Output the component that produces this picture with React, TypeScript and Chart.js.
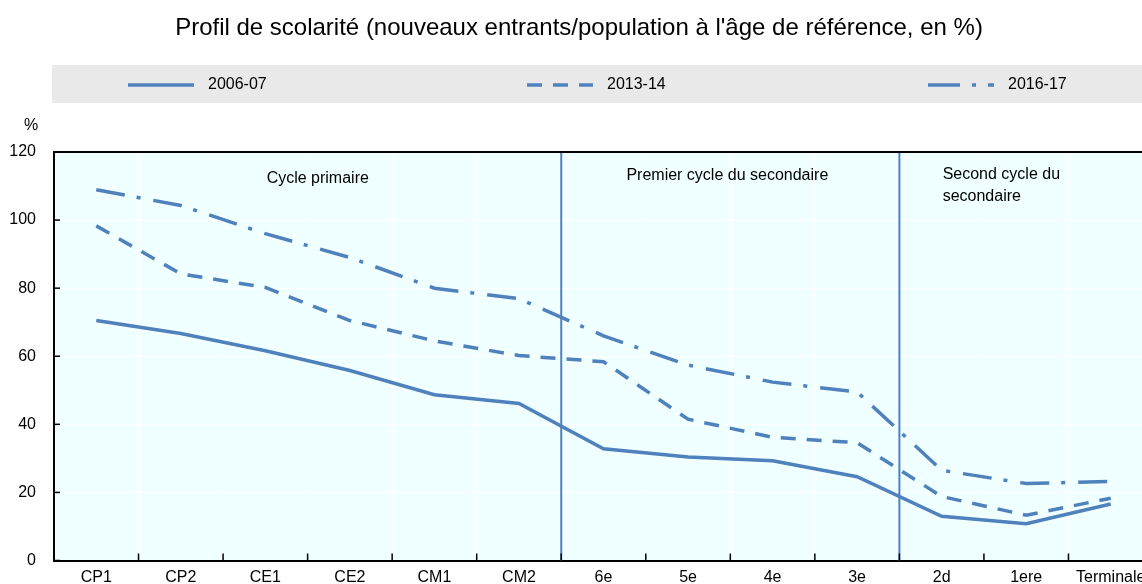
import React, { useEffect, useRef } from "react";
import { Chart, registerables } from "chart.js";

Chart.register(...registerables);

const titleText = "Profil de scolarité (nouveaux entrants/population à l'âge de référence, en %)";
const categories = ["CP1", "CP2", "CE1", "CE2", "CM1", "CM2", "6e", "5e", "4e", "3e", "2d", "1ere", "Terminale"];
const series2006 = [70.5, 66.7, 61.6, 55.8, 48.7, 46.1, 32.8, 30.4, 29.3, 24.6, 13.0, 10.8, 16.6];
const series2013 = [98.3, 84.2, 80.2, 70.5, 64.5, 60.2, 58.4, 41.5, 36.2, 34.6, 18.8, 13.3, 18.3];
const series2016 = [108.9, 104.3, 96.0, 89.0, 80.0, 76.9, 66.0, 57.4, 52.4, 49.5, 26.5, 22.6, 23.2];
const seriesLabels = ["2006-07", "2013-14", "2016-17"];
const yTicks = [0, 20, 40, 60, 80, 100, 120];
const yUnit = "%";
const sectionLabels = [["Cycle primaire"], ["Premier cycle du secondaire"], ["Second cycle du", "secondaire"]];
const sectionBreaks = [5.5, 9.5];

const FONT = "'Liberation Sans', Arial, sans-serif";
const BLUE = "#4f81bd";
const DASHES: number[][] = [[], [15, 11], [29, 12, 4, 13]];

export default function App() {
  const ref = useRef<HTMLCanvasElement>(null);

  useEffect(() => {
    const canvas = ref.current!;
    const decor = {
      id: "decor",
      beforeDraw(chart: any) {
        const { ctx, chartArea: a } = chart;
        ctx.save();
        ctx.fillStyle = "#f0ffff";
        ctx.fillRect(a.left, a.top, a.right - a.left, a.bottom - a.top);
        // title
        ctx.fillStyle = "#000";
        ctx.font = `24px ${FONT}`;
        ctx.textAlign = "center";
        ctx.textBaseline = "middle";
        ctx.fillText(titleText, 579, 28);
        // legend band
        ctx.fillStyle = "#e9e9e9";
        ctx.fillRect(52, 65, chart.width - 52, 38);
        const lx = [128, 527, 928];
        seriesLabels.forEach((lab, i) => {
          ctx.strokeStyle = BLUE;
          ctx.lineWidth = 3.5;
          ctx.setLineDash(i === 2 ? [32, 12, 4, 12] : DASHES[i]);
          ctx.beginPath();
          ctx.moveTo(lx[i], 85);
          ctx.lineTo(lx[i] + 66, 85);
          ctx.stroke();
          ctx.setLineDash([]);
          ctx.fillStyle = "#000";
          ctx.font = `16px ${FONT}`;
          ctx.textAlign = "left";
          ctx.textBaseline = "middle";
          ctx.fillText(lab, lx[i] + 80, 85);
        });
        // unit
        ctx.font = `16px ${FONT}`;
        ctx.textAlign = "center";
        ctx.fillText(yUnit, 31, 126);
        ctx.restore();
      },
      beforeDatasetsDraw(chart: any) {
        const { ctx, chartArea: a, scales } = chart;
        const x = scales.x;
        const y = scales.y;
        const half = (x.getPixelForValue(1) - x.getPixelForValue(0)) / 2;
        ctx.save();
        // separators
        ctx.strokeStyle = BLUE;
        ctx.lineWidth = 2;
        sectionBreaks.forEach((b) => {
          const px = x.getPixelForValue(Math.floor(b)) + half;
          ctx.beginPath();
          ctx.moveTo(px, a.top);
          ctx.lineTo(px, a.bottom);
          ctx.stroke();
        });
        // section labels
        ctx.fillStyle = "#000";
        ctx.font = `16px ${FONT}`;
        ctx.textBaseline = "middle";
        ctx.textAlign = "center";
        ctx.fillText(sectionLabels[0][0], x.getPixelForValue(2) + half * 1.24, 179);
        ctx.fillText(sectionLabels[1][0], x.getPixelForValue(7) + half * 0.93, 176);
        ctx.textAlign = "left";
        sectionLabels[2].forEach((t, i) => ctx.fillText(t, x.getPixelForValue(10) + 1, 175 + i * 21.5));
        // top border
        ctx.strokeStyle = "#000";
        ctx.lineWidth = 2;
        ctx.beginPath();
        ctx.moveTo(a.left - 1, a.top);
        ctx.lineTo(a.right, a.top);
        ctx.stroke();
        // inner ticks
        ctx.lineWidth = 1.5;
        for (let i = 1; i < categories.length; i++) {
          const px = x.getPixelForValue(i) - half;
          ctx.beginPath();
          ctx.moveTo(px, a.bottom);
          ctx.lineTo(px, a.bottom - 7);
          ctx.stroke();
        }
        yTicks.forEach((v) => {
          const py = y.getPixelForValue(v);
          ctx.beginPath();
          ctx.moveTo(a.left, py);
          ctx.lineTo(a.left + 6, py);
          ctx.stroke();
        });
        ctx.restore();
      },
    };

    const chart = new Chart(canvas, {
      type: "line",
      data: {
        labels: categories,
        datasets: [series2006, series2013, series2016].map((d, i) => ({
          label: seriesLabels[i],
          data: d,
          borderColor: BLUE,
          backgroundColor: BLUE,
          borderWidth: 3.5,
          borderDash: DASHES[i],
          pointRadius: 0,
          tension: 0,
          fill: false,
        })),
      },
      options: {
        responsive: false,
        maintainAspectRatio: false,
        animation: false,
        events: [],
        layout: { padding: { top: 152, left: 0, right: 0, bottom: 0 } },
        plugins: { legend: { display: false }, title: { display: false }, tooltip: { enabled: false } },
        scales: {
          x: {
            offset: true,
            grid: { color: "#ffffff", lineWidth: 1, drawTicks: false, offset: true },
            border: { color: "#000", width: 2 },
            ticks: { color: "#000", font: { family: FONT, size: 16 }, padding: 7, maxRotation: 0, autoSkip: false },
            afterFit: (s: any) => {
              s.height = 23.5;
            },
          },
          y: {
            min: 0,
            max: 120,
            afterBuildTicks: (s: any) => {
              s.ticks = yTicks.map((v) => ({ value: v }));
            },
            grid: { color: "#ffffff", lineWidth: 1, drawTicks: true, tickLength: 18, tickColor: "rgba(0,0,0,0)" },
            border: { color: "#000", width: 2 },
            ticks: { color: "#000", font: { family: FONT, size: 16 }, padding: 0 },
            afterFit: (s: any) => {
              s.width = 54;
            },
          },
        },
      },
      plugins: [decor],
    });
    return () => chart.destroy();
  }, []);

  return (
    <div style={{ position: "fixed", left: 0, top: 0, width: "100vw", height: "100vh", overflow: "hidden", background: "#fff" }}>
      <canvas ref={ref} width={1153} height={584} style={{ display: "block", width: 1153, height: 584 }} />
    </div>
  );
}
